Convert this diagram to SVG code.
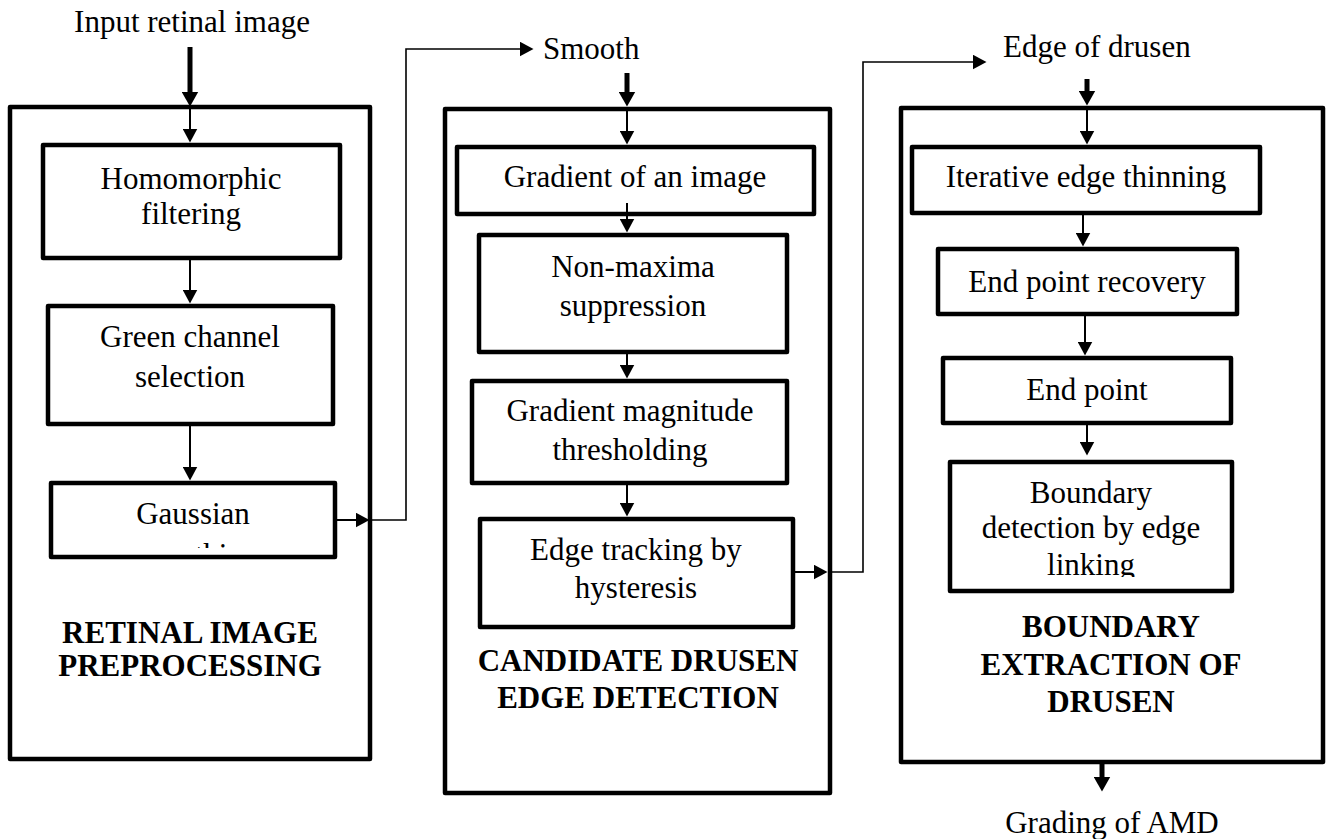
<svg xmlns="http://www.w3.org/2000/svg" width="1329" height="839" viewBox="0 0 1329 839">
<style>
text{font-family:"Liberation Serif","Times New Roman",serif;font-size:31px;fill:#000}
.c{text-anchor:middle}
.b{font-weight:bold}
.outer{fill:none;stroke:#000;stroke-width:4.5;stroke-linejoin:round}
.box{fill:#fff;stroke:#000;stroke-width:4.5;stroke-linejoin:round}
.thin{fill:none;stroke:#000;stroke-width:2}
.hair{fill:none;stroke:#000;stroke-width:1.6}
.thick{fill:none;stroke:#000;stroke-width:5}
</style>
<defs>
<marker id="arr" markerUnits="userSpaceOnUse" viewBox="0 0 14 15" markerWidth="14" markerHeight="15" refX="0.5" refY="7.5" orient="auto"><path d="M0,0 L14,7.5 L0,15 z" fill="#000"/></marker>
<marker id="arrBig" markerUnits="userSpaceOnUse" viewBox="0 0 15 17" markerWidth="15" markerHeight="17" refX="0.5" refY="8.5" orient="auto"><path d="M0,0 L15,8.5 L0,17 z" fill="#000"/></marker>
<clipPath id="clipGauss"><rect x="51" y="483" width="284" height="65"/></clipPath>
<clipPath id="clipBound"><rect x="950" y="462" width="282" height="115"/></clipPath>
</defs>

<g id="stage1">
<rect class="outer" x="10" y="107" width="360" height="652"/>
<text class="c b" x="190" y="643">RETINAL IMAGE</text>
<text class="c b" x="190" y="676">PREPROCESSING</text>
</g>
<g id="stage2">
<rect class="outer" x="445" y="109" width="385" height="684"/>
<text class="c b" x="638" y="671">CANDIDATE DRUSEN</text>
<text class="c b" x="638" y="708">EDGE DETECTION</text>
</g>
<g id="stage3">
<rect class="outer" x="901" y="108" width="422" height="654"/>
<text class="c b" x="1111" y="637">BOUNDARY</text>
<text class="c b" x="1111" y="675">EXTRACTION OF</text>
<text class="c b" x="1111" y="712">DRUSEN</text>
</g>

<g id="input"><text class="c" x="192" y="32">Input retinal image</text></g>
<g id="smooth"><text x="543" y="59">Smooth</text></g>
<g id="edgeDrusen"><text x="1003" y="57">Edge of drusen</text></g>
<g id="grading"><text class="c" x="1112" y="833">Grading of AMD</text></g>

<g id="homomorphic">
<rect class="box" x="43" y="145" width="297" height="113"/>
<text class="c" x="191" y="189">Homomorphic</text>
<text class="c" x="191" y="224">filtering</text>
</g>
<g id="green">
<rect class="box" x="48" y="306" width="285" height="118"/>
<text class="c" x="190" y="347">Green channel</text>
<text class="c" x="190" y="387">selection</text>
</g>
<g id="gaussian">
<rect class="box" x="51" y="483" width="284" height="74"/>
<g clip-path="url(#clipGauss)">
<text class="c" x="193" y="524">Gaussian</text>
<text class="c" x="193" y="565">smoothing</text>
</g>
</g>

<g id="gradient">
<rect class="box" x="457" y="147" width="357" height="67"/>
<text class="c" x="635" y="187">Gradient of an image</text>
</g>
<g id="nonmax">
<rect class="box" x="479" y="235" width="308" height="117"/>
<text class="c" x="633" y="277">Non-maxima</text>
<text class="c" x="633" y="316">suppression</text>
</g>
<g id="gradmag">
<rect class="box" x="472" y="381" width="315" height="102"/>
<text class="c" x="630" y="421">Gradient magnitude</text>
<text class="c" x="630" y="460">thresholding</text>
</g>
<g id="hysteresis">
<rect class="box" x="480" y="519" width="313" height="108"/>
<text class="c" x="636" y="560">Edge tracking by</text>
<text class="c" x="636" y="598">hysteresis</text>
</g>

<g id="thinning">
<rect class="box" x="912" y="147" width="348" height="66"/>
<text class="c" x="1086" y="187">Iterative edge thinning</text>
</g>
<g id="recovery">
<rect class="box" x="938" y="249" width="299" height="65"/>
<text class="c" x="1087" y="292">End point recovery</text>
</g>
<g id="endpoint">
<rect class="box" x="943" y="358" width="288" height="65"/>
<text class="c" x="1087" y="400">End point</text>
</g>
<g id="boundary">
<rect class="box" x="950" y="462" width="282" height="129"/>
<g clip-path="url(#clipBound)">
<text class="c" x="1091" y="503">Boundary</text>
<text class="c" x="1091" y="538">detection by edge</text>
<text class="c" x="1091" y="575">linking</text>
</g>
</g>

<g id="connectors">
<path class="thick" d="M190,47 V92" marker-end="url(#arrBig)"/>
<path class="thin" d="M190,107 V129" marker-end="url(#arr)"/>
<path class="thin" d="M190,258 V290" marker-end="url(#arr)"/>
<path class="thin" d="M190,424 V467" marker-end="url(#arr)"/>
<path class="thin" d="M335,520 H356" marker-end="url(#arr)"/>
<path class="hair" d="M370,520 H406 V49 H520" marker-end="url(#arr)"/>

<path class="thick" d="M627,73 V92" marker-end="url(#arrBig)"/>
<path class="thin" d="M627,109 V131" marker-end="url(#arr)"/>
<path class="thin" d="M627,203 V219" marker-end="url(#arr)"/>
<path class="thin" d="M627,352 V365" marker-end="url(#arr)"/>
<path class="thin" d="M627,483 V503" marker-end="url(#arr)"/>
<path class="thin" d="M793,572 H814" marker-end="url(#arr)"/>
<path class="hair" d="M830,572 H863 V62 H973" marker-end="url(#arr)"/>

<path class="thick" d="M1087,79 V91" marker-end="url(#arrBig)"/>
<path class="thin" d="M1087,108 V131" marker-end="url(#arr)"/>
<path class="thin" d="M1083,213 V233" marker-end="url(#arr)"/>
<path class="thin" d="M1085,314 V342" marker-end="url(#arr)"/>
<path class="thin" d="M1087,423 V442" marker-end="url(#arr)"/>
<path class="thick" d="M1102,762 V777" marker-end="url(#arrBig)"/>
</g>
</svg>
